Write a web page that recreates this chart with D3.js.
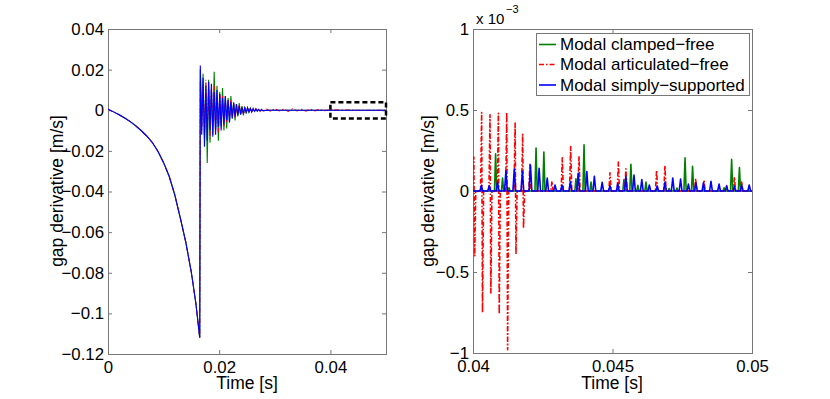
<!DOCTYPE html>
<html>
<head>
<meta charset="utf-8">
<script src="https://cdn.jsdelivr.net/npm/d3@7"></script>
<style>
    body { margin: 0; background: #fff; }
    svg text { font-family: "Liberation Sans", Arial, sans-serif; fill: #000; }
</style>
</head>
<body>
<div id="chart"></div>
<script>
// ---- left panel: approach curve (shared by the 3 models) ----
var approachT = [0, 0.001, 0.002, 0.003, 0.004, 0.005, 0.006, 0.007, 0.008, 0.009, 0.010,
    0.011, 0.012, 0.013, 0.014, 0.015, 0.0158, 0.0163, 0.0165];
var approachV = [0.0005, -0.0008, -0.0022, -0.0038, -0.0056, -0.0077, -0.0101, -0.0128, -0.016, -0.0203, -0.0258,
    -0.0325, -0.0415, -0.053, -0.065, -0.080, -0.095, -0.107, -0.112];

// ---- left panel: after impact oscillations ----
var oscT = [0.0166, 0.01685, 0.0171, 0.01735, 0.0176, 0.01785, 0.0181, 0.01835, 0.0186, 0.01885,
    0.0191, 0.01935, 0.0196, 0.01985, 0.0201, 0.02035, 0.0206, 0.02085, 0.0211, 0.02135,
    0.0216, 0.02185, 0.0221, 0.02235, 0.0226, 0.02285, 0.0231, 0.02335, 0.0236, 0.02385,
    0.0241, 0.02435, 0.0246, 0.02485, 0.0251, 0.02535, 0.0256, 0.02585, 0.0261, 0.02635,
    0.0266, 0.02685, 0.0271, 0.02735, 0.0276, 0.02785];
var oscClamped = [0.020, -0.008, 0.018, -0.014, 0.012, -0.026, 0.015, -0.016, 0.010, -0.012,
    0.019, -0.010, 0.012, -0.015, 0.009, -0.008, 0.011, -0.010, 0.007, -0.009,
    0.006, -0.006, 0.007, -0.004, 0.004, -0.005, 0.003, -0.003, 0.0035, -0.002,
    0.002, -0.0025, 0.0015, -0.0015, 0.001, -0.001, 0.001, -0.0008, 0.0006, -0.0006,
    0.0005, -0.0004, 0.0003, -0.0003, 0.0002, -0.0002];
var oscArticulated = [0.014, -0.010, 0.012, -0.012, 0.015, -0.009, 0.010, -0.014, 0.011, -0.008,
    0.012, -0.009, 0.006, -0.011, 0.008, -0.006, 0.007, -0.008, 0.005, -0.006,
    0.005, -0.004, 0.005, -0.003, 0.003, -0.004, 0.002, -0.002, 0.0025, -0.0018,
    0.0015, -0.002, 0.0012, -0.001, 0.0013, -0.0009, 0.001, -0.0008, 0.0009, -0.0006,
    0.0008, -0.0005, 0.0007, -0.0006, 0.0005, -0.0005];
var oscSimply = [0.022, -0.012, 0.016, -0.018, 0.012, -0.015, 0.014, -0.010, 0.013, -0.013,
    0.009, -0.012, 0.010, -0.008, 0.008, -0.010, 0.006, -0.007, 0.007, -0.005,
    0.005, -0.006, 0.004, -0.004, 0.0035, -0.003, 0.003, -0.0025, 0.002, -0.0022,
    0.0015, -0.0015, 0.0012, -0.001, 0.0012, -0.0008, 0.0009, -0.0007, 0.0007, -0.0005,
    0.0006, -0.0004, 0.0004, -0.0003, 0.0003, -0.0002];
// small residual wiggle of the articulated model
var tailArtT = [0.0285, 0.0292, 0.030, 0.0308, 0.0316, 0.0324, 0.0332, 0.034, 0.0348, 0.0356,
    0.0364, 0.0372, 0.038, 0.0388, 0.040, 0.045, 0.05];
var tailArtV = [0.0006, -0.0004, 0.0007, -0.0003, 0.0006, -0.0005, 0.0007, -0.0003, 0.0005, -0.0004,
    0.0006, -0.0003, 0.0004, -0.0002, 0.0002, 0, 0];
var tailT = [0.029, 0.05];
var tailV = [0, 0];

// ---- right panel (values in 1e-3 m/s) ----
var clampedSpikeT = [0.04081, 0.04106, 0.04129, 0.04226, 0.04254, 0.04369, 0.04398, 0.04423, 0.04541, 0.04566,
    0.04591, 0.0462, 0.04703, 0.04731, 0.0476, 0.04787, 0.049, 0.04927, 0.04955];
var clampedSpikeH = [0.23, 0.08, 0.02, 0.265, 0.24, 0.075, 0.285, 0.055, 0.07, 0.165,
    0.035, 0.055, 0.015, 0.018, 0.205, 0.152, 0.02, 0.195, 0.145];

var artOscT = [0.04003, 0.04031, 0.04061, 0.04091, 0.04121, 0.04151, 0.04178];
var artOscUp = [0.21, 0.485, 0.47, 0.48, 0.485, 0.42, 0.35];
var artOscDown = [-0.40, -0.75, -0.63, -0.76, -0.98, -0.39, -0.23];
var artSpikeT = [0.04204, 0.04283, 0.0432, 0.0435, 0.0438, 0.04491, 0.04521, 0.04548, 0.04658, 0.04688,
    0.04798, 0.04828, 0.04909, 0.04937, 0.04963];
var artSpikeH = [0.165, 0.06, 0.205, 0.275, 0.215, 0.113, 0.178, 0.137, 0.127, 0.157,
    0.077, 0.066, 0.033, 0.087, 0.055];

var simplySpikeT = [0.0403, 0.04058, 0.04088, 0.04118, 0.04148, 0.04177, 0.04206, 0.04237, 0.04266, 0.04294,
    0.04319, 0.04349, 0.04377, 0.04408, 0.04435, 0.04463, 0.04491, 0.04519, 0.04548, 0.04577,
    0.04605, 0.04632, 0.0466, 0.04688, 0.04716, 0.04744, 0.04772, 0.04799, 0.04826, 0.04853,
    0.04882, 0.04909, 0.04937, 0.04963, 0.0499];
var simplySpikeH = [0.035, 0.032, 0.055, 0.125, 0.135, 0.122, 0.16, 0.14, 0.08, 0.037,
    0.037, 0.057, 0.11, 0.12, 0.09, 0.053, 0.033, 0.045, 0.09, 0.098,
    0.07, 0.037, 0.03, 0.053, 0.08, 0.074, 0.043, 0.05, 0.05, 0.06,
    0.043, 0.03, 0.03, 0.037, 0.037];

// ticks
var leftXTicks = [0, 0.02, 0.04];
var leftYTicks = [0.04, 0.02, 0, -0.02, -0.04, -0.06, -0.08, -0.1, -0.12];
var rightXTicks = [0.04, 0.045, 0.05];
var rightYTicks = [1, 0.5, 0, -0.5, -1];

var legendNames = ["Modal clamped\u2212free", "Modal articulated\u2212free", "Modal simply\u2212supported"];
var colors = ["#008000", "#ff0000", "#0000ff"];
var redDash = "5,2,1.5,2";

function zipPts(t, v) {
    return t.map((d, i) => [d, v[i]]);
}

function spikePts(t, hgt, hw) {
    var pts = [];
    t.forEach((d, i) => {
        pts.push([d - hw, 0], [d, hgt[i]], [d + hw, 0]);
    });
    return pts;
}

function init() {
    var w = 830;
    var h = 399;
    var tickFont = "16.8px";
    var labelFont = "17.5px";

    var svg = d3.select("#chart")
        .append("svg")
        .attr("width", w)
        .attr("height", h);

    var fmt = d3.format("~g");

    function frame(x, y, xt, yt, id) {
        var g = svg.append("g");
        var x0 = x.range()[0], x1 = x.range()[1];
        var y0 = y.range()[0], y1 = y.range()[1];

        g.append("g")
            .attr("transform", `translate(0, ${y0})`)
            .call(d3.axisBottom(x).tickValues(xt).tickSize(-4).tickPadding(7).tickFormat(fmt));
        g.append("g")
            .attr("transform", `translate(0, ${y1})`)
            .call(d3.axisTop(x).tickValues(xt).tickSize(-4).tickFormat(""));
        g.append("g")
            .attr("transform", `translate(${x0}, 0)`)
            .call(d3.axisLeft(y).tickValues(yt).tickSize(-4).tickPadding(4).tickFormat(fmt));
        g.append("g")
            .attr("transform", `translate(${x1}, 0)`)
            .call(d3.axisRight(y).tickValues(yt).tickSize(-4).tickFormat(""));

        g.selectAll(".domain").remove();
        g.selectAll(".tick line").attr("stroke", "#777");
        g.selectAll(".tick text")
            .style("font-size", tickFont)
            .attr("fill", "#000");

        svg.append("rect")
            .attr("x", x0 + 0.5)
            .attr("y", y1 + 0.5)
            .attr("width", x1 - x0)
            .attr("height", y0 - y1)
            .attr("fill", "none")
            .attr("stroke", "#777");

        svg.append("clipPath")
            .attr("id", id)
            .append("rect")
            .attr("x", x0)
            .attr("y", y1)
            .attr("width", x1 - x0 + 1)
            .attr("height", y0 - y1 + 1);
    }

    // ---------- left panel ----------
    var xL = d3.scaleLinear().domain([0, 0.05]).range([108, 386]);
    var yL = d3.scaleLinear().domain([-0.12, 0.04]).range([354, 29]);
    frame(xL, yL, leftXTicks, leftYTicks, "clipL");

    var lineL = d3.line().x(d => xL(d[0])).y(d => yL(d[1]));
    var approach = zipPts(approachT, approachV);
    var leftSeries = [
        approach.concat(zipPts(oscT, oscClamped), zipPts(tailT, tailV)),
        approach.concat(zipPts(oscT, oscArticulated), zipPts(tailArtT, tailArtV)),
        approach.concat(zipPts(oscT, oscSimply), zipPts(tailT, tailV))
    ];
    var gL = svg.append("g").attr("clip-path", "url(#clipL)");
    leftSeries.forEach((s, i) => {
        gL.append("path")
            .attr("d", lineL(s))
            .attr("fill", "none")
            .attr("stroke", colors[i])
            .attr("stroke-width", 1.1)
            .attr("stroke-dasharray", i === 1 ? redDash : null);
    });

    // zoom box
    svg.append("rect")
        .attr("x", xL(0.04))
        .attr("y", yL(0.004))
        .attr("width", xL(0.05) - xL(0.04))
        .attr("height", yL(-0.004) - yL(0.004))
        .attr("fill", "none")
        .attr("stroke", "#000")
        .attr("stroke-width", 2.5)
        .attr("stroke-dasharray", "5,3");

    svg.append("text")
        .attr("x", 247)
        .attr("y", 389)
        .attr("text-anchor", "middle")
        .style("font-size", labelFont)
        .text("Time [s]");

    svg.append("text")
        .attr("transform", "translate(57, 191) rotate(-90)")
        .attr("text-anchor", "middle")
        .attr("dy", "0.35em")
        .style("font-size", labelFont)
        .text("gap derivative [m/s]");

    // ---------- right panel ----------
    var xR = d3.scaleLinear().domain([0.04, 0.05]).range([473, 752]);
    var yR = d3.scaleLinear().domain([-1, 1]).range([353, 29]);
    frame(xR, yR, rightXTicks, rightYTicks, "clipR");

    var lineR = d3.line().x(d => xR(d[0])).y(d => yR(d[1]));
    var hw = 0.00004;

    var artPts = [[0.04, 0]];
    artOscT.forEach((d, i) => {
        artPts.push([d - hw, 0], [d, artOscUp[i]], [d + 0.00003, artOscDown[i]], [d + 0.00003 + hw, 0]);
    });
    artPts = artPts.concat(spikePts(artSpikeT, artSpikeH, hw), [[0.05, 0]]);

    var rightSeries = [
        [[0.04, 0]].concat(spikePts(clampedSpikeT, clampedSpikeH, hw), [[0.05, 0]]),
        artPts,
        [[0.04, 0]].concat(spikePts(simplySpikeT, simplySpikeH, 0.00005), [[0.05, 0]])
    ];
    var gR = svg.append("g").attr("clip-path", "url(#clipR)");
    rightSeries.forEach((s, i) => {
        gR.append("path")
            .attr("d", lineR(s))
            .attr("fill", "none")
            .attr("stroke", colors[i])
            .attr("stroke-width", 1.6)
            .attr("stroke-linejoin", "round")
            .attr("stroke-dasharray", i === 1 ? redDash : null);
    });

    // exponent label
    svg.append("text")
        .attr("x", 476)
        .attr("y", 24)
        .style("font-size", "15px")
        .text("x 10");
    svg.append("text")
        .attr("x", 506)
        .attr("y", 13)
        .style("font-size", "11px")
        .text("\u22123");

    svg.append("text")
        .attr("x", 612)
        .attr("y", 389)
        .attr("text-anchor", "middle")
        .style("font-size", labelFont)
        .text("Time [s]");

    svg.append("text")
        .attr("transform", "translate(428, 191) rotate(-90)")
        .attr("text-anchor", "middle")
        .attr("dy", "0.35em")
        .style("font-size", labelFont)
        .text("gap derivative [m/s]");

    // legend
    var legend = svg.append("g");
    legend.append("rect")
        .attr("x", 536.5)
        .attr("y", 33.5)
        .attr("width", 213)
        .attr("height", 62)
        .attr("fill", "#fff")
        .attr("stroke", "#777");

    var rowY = [44.5, 64.5, 85];
    legendNames.forEach((name, i) => {
        legend.append("line")
            .attr("x1", 539)
            .attr("x2", 556)
            .attr("y1", rowY[i])
            .attr("y2", rowY[i])
            .attr("stroke", colors[i])
            .attr("stroke-width", 1.6)
            .attr("stroke-dasharray", i === 1 ? redDash : null);
        legend.append("text")
            .attr("x", 560)
            .attr("y", rowY[i])
            .attr("dy", "0.35em")
            .style("font-size", "17px")
            .text(name);
    });
}

window.onload = init;
</script>
</body>
</html>
